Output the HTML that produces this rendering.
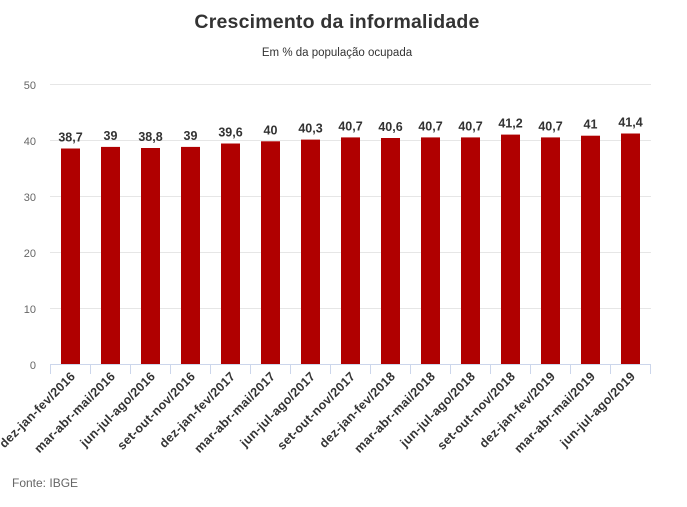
<!DOCTYPE html>
<html><head><meta charset="utf-8"><style>
html,body{margin:0;padding:0;background:#fff;}
svg{display:block;font-family:"Liberation Sans",sans-serif;}
.v{font-size:12.5px;font-weight:bold;fill:#333;text-anchor:middle}
.c{font-size:12.5px;font-weight:bold;fill:#333;text-anchor:end;letter-spacing:0.3px}
</style></head><body>
<svg width="687" height="507" viewBox="0 0 687 507">
<text x="337" y="28" text-anchor="middle" font-size="19.5" font-weight="bold" fill="#333" letter-spacing="0.2">Crescimento da informalidade</text>
<text x="337" y="56" text-anchor="middle" font-size="11.5" fill="#333">Em % da população ocupada</text>
<g stroke="#e6e6e6" stroke-width="1">
<line x1="50" x2="651" y1="84.5" y2="84.5"/>
<line x1="50" x2="651" y1="140.5" y2="140.5"/>
<line x1="50" x2="651" y1="196.5" y2="196.5"/>
<line x1="50" x2="651" y1="252.5" y2="252.5"/>
<line x1="50" x2="651" y1="308.5" y2="308.5"/>
</g>
<g font-size="11" fill="#666" text-anchor="end">
<text x="36" y="89">50</text><text x="36" y="145">40</text><text x="36" y="201">30</text>
<text x="36" y="257">20</text><text x="36" y="313">10</text><text x="36" y="369">0</text>
</g>
<g fill="#b00000">
<rect x="61" y="148.5" width="19" height="216"/>
<rect x="101" y="146.9" width="19" height="217.6"/>
<rect x="141" y="148" width="19" height="216.5"/>
<rect x="181" y="146.9" width="19" height="217.6"/>
<rect x="221" y="143.5" width="19" height="221"/>
<rect x="261" y="141.3" width="19" height="223.2"/>
<rect x="301" y="139.6" width="19" height="224.9"/>
<rect x="341" y="137.4" width="19" height="227.1"/>
<rect x="381" y="138" width="19" height="226.5"/>
<rect x="421" y="137.4" width="19" height="227.1"/>
<rect x="461" y="137.4" width="19" height="227.1"/>
<rect x="501" y="134.6" width="19" height="229.9"/>
<rect x="541" y="137.4" width="19" height="227.1"/>
<rect x="581" y="135.7" width="19" height="228.8"/>
<rect x="621" y="133.5" width="19" height="231"/>
</g>
<text class="v" x="70.5" y="141.5">38,7</text>
<text class="v" x="110.5" y="139.9">39</text>
<text class="v" x="150.5" y="141">38,8</text>
<text class="v" x="190.5" y="139.9">39</text>
<text class="v" x="230.5" y="136.5">39,6</text>
<text class="v" x="270.5" y="134.3">40</text>
<text class="v" x="310.5" y="132.6">40,3</text>
<text class="v" x="350.5" y="130.4">40,7</text>
<text class="v" x="390.5" y="131">40,6</text>
<text class="v" x="430.5" y="130.4">40,7</text>
<text class="v" x="470.5" y="130.4">40,7</text>
<text class="v" x="510.5" y="127.6">41,2</text>
<text class="v" x="550.5" y="130.4">40,7</text>
<text class="v" x="590.5" y="128.7">41</text>
<text class="v" x="630.5" y="126.5">41,4</text>
<line x1="50" x2="651" y1="364.5" y2="364.5" stroke="#ccd6eb"/>
<g stroke="#ccd6eb">
<line x1="50.5" x2="50.5" y1="364" y2="374"/><line x1="90.5" x2="90.5" y1="364" y2="374"/>
<line x1="130.5" x2="130.5" y1="364" y2="374"/><line x1="170.5" x2="170.5" y1="364" y2="374"/>
<line x1="210.5" x2="210.5" y1="364" y2="374"/><line x1="250.5" x2="250.5" y1="364" y2="374"/>
<line x1="290.5" x2="290.5" y1="364" y2="374"/><line x1="330.5" x2="330.5" y1="364" y2="374"/>
<line x1="370.5" x2="370.5" y1="364" y2="374"/><line x1="410.5" x2="410.5" y1="364" y2="374"/>
<line x1="450.5" x2="450.5" y1="364" y2="374"/><line x1="490.5" x2="490.5" y1="364" y2="374"/>
<line x1="530.5" x2="530.5" y1="364" y2="374"/><line x1="570.5" x2="570.5" y1="364" y2="374"/>
<line x1="610.5" x2="610.5" y1="364" y2="374"/><line x1="650.5" x2="650.5" y1="364" y2="374"/>
</g>
<text class="c" transform="translate(76,377) rotate(-45)">dez-jan-fev/2016</text>
<text class="c" transform="translate(116,377) rotate(-45)">mar-abr-mai/2016</text>
<text class="c" transform="translate(156,377) rotate(-45)">jun-jul-ago/2016</text>
<text class="c" transform="translate(196,377) rotate(-45)">set-out-nov/2016</text>
<text class="c" transform="translate(236,377) rotate(-45)">dez-jan-fev/2017</text>
<text class="c" transform="translate(276,377) rotate(-45)">mar-abr-mai/2017</text>
<text class="c" transform="translate(316,377) rotate(-45)">jun-jul-ago/2017</text>
<text class="c" transform="translate(356,377) rotate(-45)">set-out-nov/2017</text>
<text class="c" transform="translate(396,377) rotate(-45)">dez-jan-fev/2018</text>
<text class="c" transform="translate(436,377) rotate(-45)">mar-abr-mai/2018</text>
<text class="c" transform="translate(476,377) rotate(-45)">jun-jul-ago/2018</text>
<text class="c" transform="translate(516,377) rotate(-45)">set-out-nov/2018</text>
<text class="c" transform="translate(556,377) rotate(-45)">dez-jan-fev/2019</text>
<text class="c" transform="translate(596,377) rotate(-45)">mar-abr-mai/2019</text>
<text class="c" transform="translate(636,377) rotate(-45)">jun-jul-ago/2019</text>
<text x="12" y="487" font-size="12" fill="#666">Fonte: IBGE</text>
</svg>
</body></html>
